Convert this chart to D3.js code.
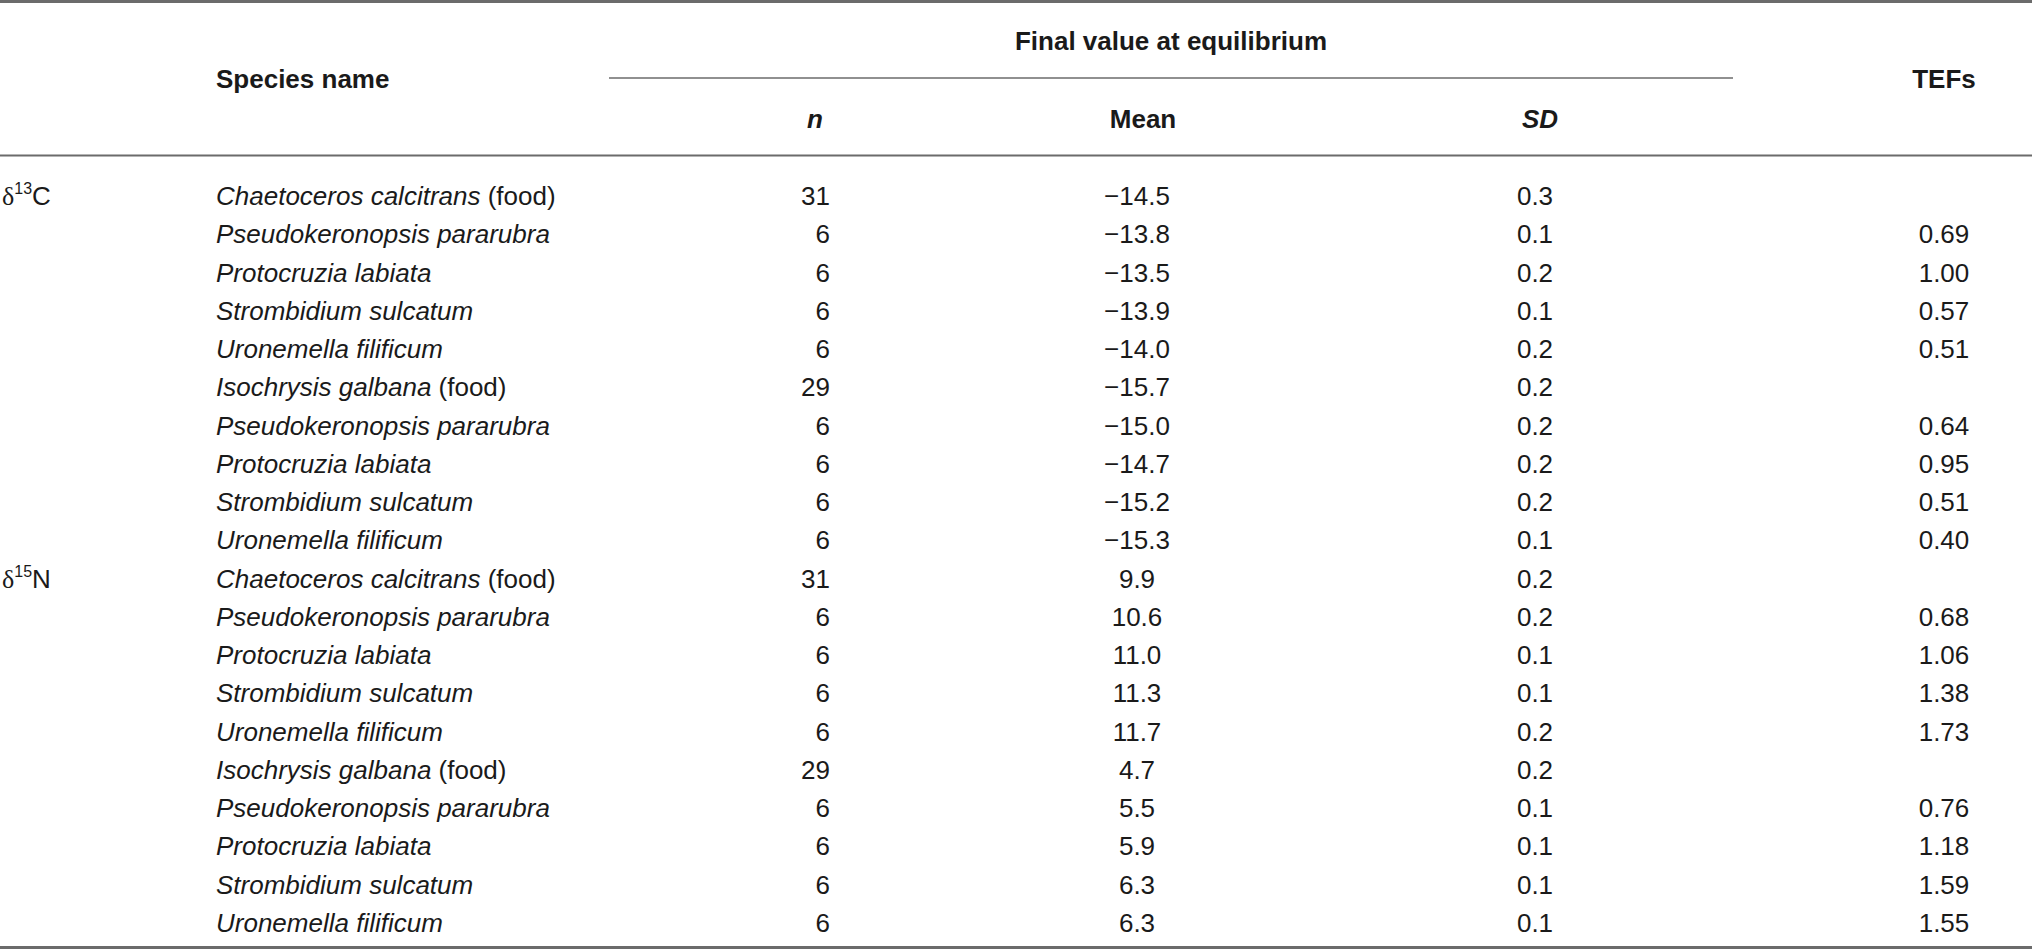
<!DOCTYPE html>
<html>
<head>
<meta charset="utf-8">
<script src="https://cdn.jsdelivr.net/npm/d3@7"></script>
<style>
  html, body { margin: 0; padding: 0; background: #fff; }
  svg text { font-family: "Liberation Sans", Arial, Helvetica, sans-serif; fill: #1a1a1a; }
</style>
</head>
<body>
<svg id="table"></svg>
<script>
const size = { width: 2032, height: 949 };

const groups = ["13C", "", "", "", "", "", "", "", "", "", "15N", "", "", "", "", "", "", "", "", ""];
const species = [
  "Chaetoceros calcitrans", "Pseudokeronopsis pararubra", "Protocruzia labiata", "Strombidium sulcatum", "Uronemella filificum",
  "Isochrysis galbana", "Pseudokeronopsis pararubra", "Protocruzia labiata", "Strombidium sulcatum", "Uronemella filificum",
  "Chaetoceros calcitrans", "Pseudokeronopsis pararubra", "Protocruzia labiata", "Strombidium sulcatum", "Uronemella filificum",
  "Isochrysis galbana", "Pseudokeronopsis pararubra", "Protocruzia labiata", "Strombidium sulcatum", "Uronemella filificum"
];
const isFood = [1, 0, 0, 0, 0, 1, 0, 0, 0, 0, 1, 0, 0, 0, 0, 1, 0, 0, 0, 0];
const nValues = [31, 6, 6, 6, 6, 29, 6, 6, 6, 6, 31, 6, 6, 6, 6, 29, 6, 6, 6, 6];
const means = [-14.5, -13.8, -13.5, -13.9, -14.0, -15.7, -15.0, -14.7, -15.2, -15.3,
  9.9, 10.6, 11.0, 11.3, 11.7, 4.7, 5.5, 5.9, 6.3, 6.3];
const sds = [0.3, 0.1, 0.2, 0.1, 0.2, 0.2, 0.2, 0.2, 0.2, 0.1,
  0.2, 0.2, 0.1, 0.1, 0.2, 0.2, 0.1, 0.1, 0.1, 0.1];
const tefs = [null, 0.69, 1.00, 0.57, 0.51, null, 0.64, 0.95, 0.51, 0.40,
  null, 0.68, 1.06, 1.38, 1.73, null, 0.76, 1.18, 1.59, 1.55];

const rows = species.map((name, i) => ({
  group: groups[i], name, food: isFood[i], n: nValues[i], mean: means[i], sd: sds[i], tef: tefs[i]
}));

// column anchors
const col = d3.scaleOrdinal()
  .domain(["group", "species", "n", "mean", "sd", "tef"])
  .range([2, 216, 830, 1137, 1535, 1944]);

const y = d3.scalePoint()
  .domain(d3.range(rows.length))
  .range([196, 923]);

const fontSize = 26;
const lineColor = "#6b6b6b";

const svg = d3.select("#table")
  .attr("width", size.width)
  .attr("height", size.height);

// rules
const rule = (x1, x2, yy, w) =>
  svg.append("line")
    .attr("x1", x1).attr("x2", x2)
    .attr("y1", yy).attr("y2", yy)
    .attr("stroke", lineColor)
    .attr("stroke-width", w);

rule(0, size.width, 1.5, 3);
rule(609, 1733, 78, 1.5);
rule(0, size.width, 155.5, 1.8);
rule(0, size.width, 947.5, 3);

// header
const header = svg.append("g")
  .attr("font-weight", "bold")
  .attr("font-size", fontSize)
  .attr("dominant-baseline", "central");

header.append("text")
  .attr("x", 1171).attr("y", 41)
  .attr("text-anchor", "middle")
  .text("Final value at equilibrium");

header.append("text")
  .attr("x", col("species")).attr("y", 79)
  .text("Species name");

header.append("text")
  .attr("x", col("tef")).attr("y", 79)
  .attr("text-anchor", "middle")
  .text("TEFs");

header.append("text")
  .attr("x", 823).attr("y", 119)
  .attr("text-anchor", "end")
  .attr("font-style", "italic")
  .text("n");

header.append("text")
  .attr("x", 1143).attr("y", 119)
  .attr("text-anchor", "middle")
  .text("Mean");

header.append("text")
  .attr("x", 1540).attr("y", 119)
  .attr("text-anchor", "middle")
  .attr("font-style", "italic")
  .text("SD");

// body
const fmt1 = d3.format(".1f");
const fmt2 = d3.format(".2f");

const body = svg.append("g")
  .attr("font-size", fontSize)
  .attr("dominant-baseline", "central");

const row = body.selectAll("g.row")
  .data(rows)
  .join("g")
  .attr("class", "row")
  .attr("transform", (d, i) => `translate(0,${y(i)})`);

const label = row.filter(d => d.group)
  .append("text")
  .attr("x", col("group"));
label.append("tspan")
  .attr("font-family", "'Liberation Serif', 'DejaVu Serif', serif")
  .text("δ");
label.append("tspan")
  .attr("font-size", 16)
  .attr("dy", -8)
  .text(d => d.group.slice(0, 2));
label.append("tspan")
  .attr("dy", 8)
  .text(d => d.group.slice(2));

const name = row.append("text").attr("x", col("species"));
name.append("tspan")
  .attr("font-style", "italic")
  .text(d => d.name);
name.filter(d => d.food)
  .append("tspan")
  .text(" (food)");

row.append("text")
  .attr("x", col("n"))
  .attr("text-anchor", "end")
  .text(d => d.n);

row.append("text")
  .attr("x", col("mean"))
  .attr("text-anchor", "middle")
  .text(d => fmt1(d.mean));

row.append("text")
  .attr("x", col("sd"))
  .attr("text-anchor", "middle")
  .text(d => fmt1(d.sd));

row.filter(d => d.tef !== null)
  .append("text")
  .attr("x", col("tef"))
  .attr("text-anchor", "middle")
  .text(d => fmt2(d.tef));
</script>
</body>
</html>
